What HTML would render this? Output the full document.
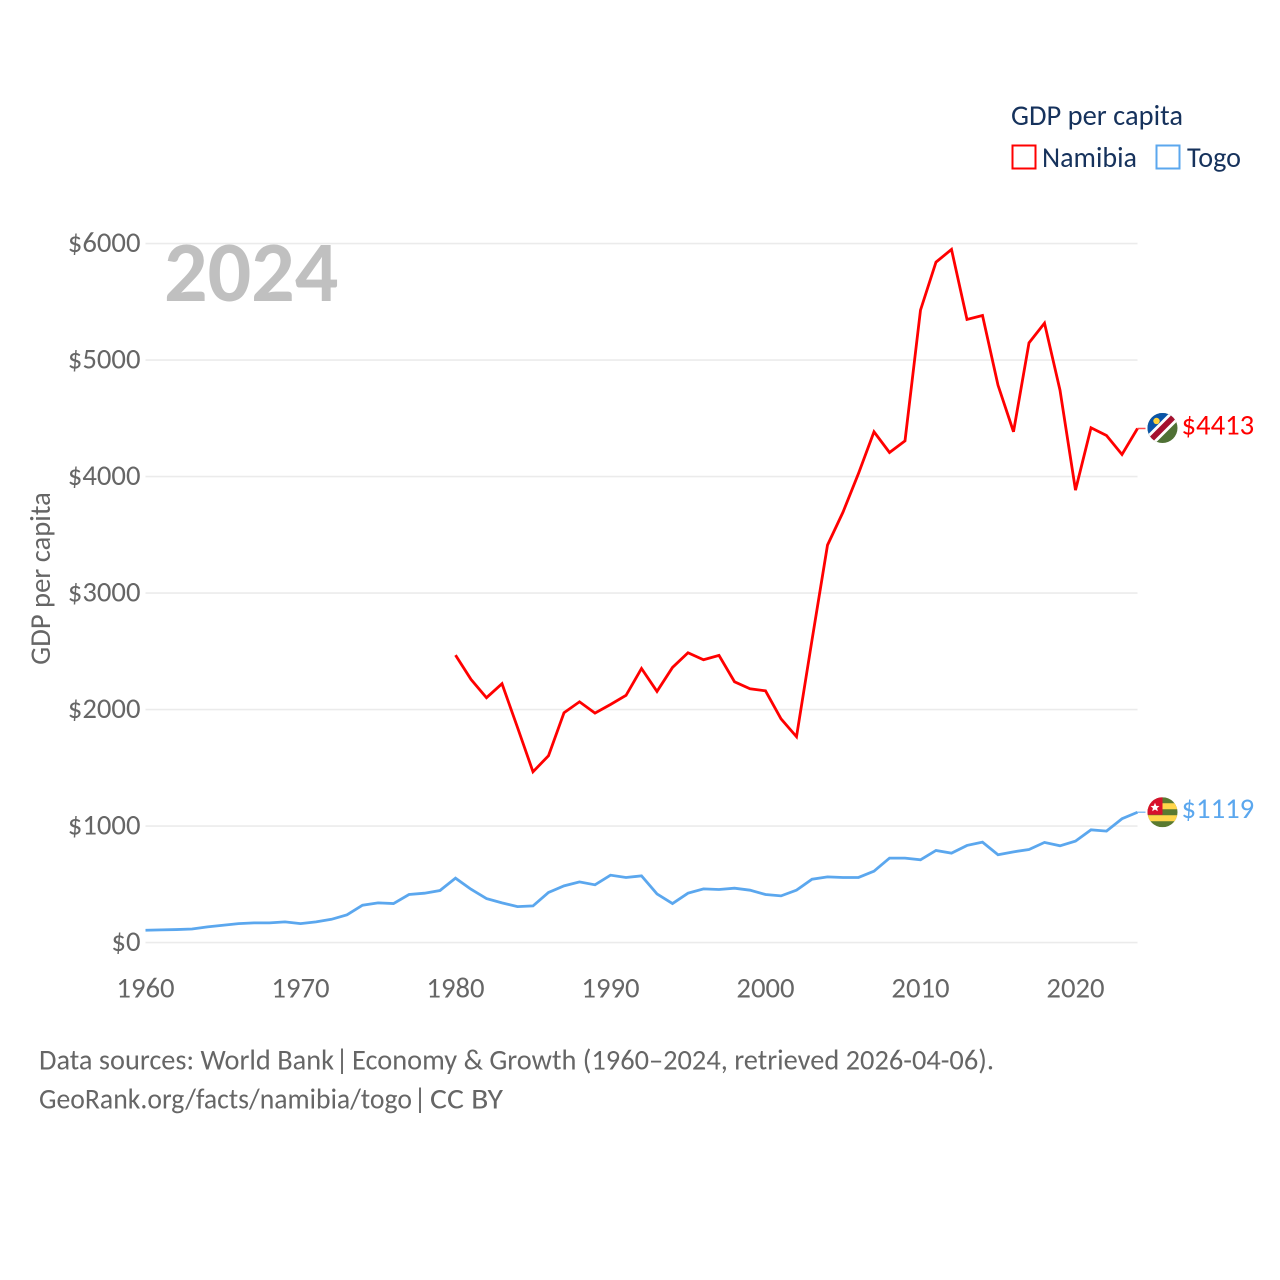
<!DOCTYPE html>
<html lang="en">
<head>
<meta charset="utf-8">
<title>GDP per capita: Namibia and Togo</title>
<style>
  html, body { margin: 0; padding: 0; background: #fff; }
  svg { display: block; font-family: "Carlito", "Lato", "Liberation Sans", sans-serif; }
</style>
</head>
<body>
<svg id="chart" xmlns="http://www.w3.org/2000/svg" width="1280" height="1280" viewBox="0 0 1280 1280">
  <defs>
    <clipPath id="flag-clip-na"><circle cx="0" cy="0" r="15"></circle></clipPath>
    <clipPath id="flag-clip-tg"><circle cx="0" cy="0" r="15"></circle></clipPath>
  </defs>
  <rect x="0" y="0" width="1280" height="1280" fill="#ffffff"></rect>

  <g id="grid"></g>
  <g id="yticks"></g>
  <g id="xticks"></g>

  <text x="164" y="301" font-size="86" font-weight="700" fill="#c0c0c0">2024</text>
  <text transform="translate(50,578.5) rotate(-90)" text-anchor="middle" font-size="28.6" fill="#666666">GDP per capita</text>

  <g id="series"></g>

  <g id="flag-namibia">
    <g clip-path="url(#flag-clip-na)">
      <rect x="-15" y="-15" width="30" height="30" fill="#4f7135"></rect>
      <polygon points="-15,-15 15,-15 -15,15" fill="#0a55a8"></polygon>
      <polygon points="-17,9 9,-17 17,-9 -9,17" fill="#ffffff"></polygon>
      <polygon points="-17,13 13,-17 17,-13 -13,17" fill="#a5112f"></polygon>
      <circle cx="-6" cy="-7" r="3.2" fill="#ffd43b"></circle>
    </g>
  </g>
  <g id="flag-togo">
    <g clip-path="url(#flag-clip-tg)">
      <rect x="-15" y="-15" width="30" height="30" fill="#5a7a30"></rect>
      <rect x="-15" y="-9" width="30" height="6" fill="#ffd64a"></rect>
      <rect x="-15" y="3" width="30" height="6" fill="#ffd64a"></rect>
      <rect x="-15" y="-15" width="15" height="17.5" fill="#d8102c"></rect>
      <polygon points="-7.5,-9.5 -6.2,-6.4 -3,-6.2 -5.4,-4.1 -4.7,-1 -7.5,-2.7 -10.3,-1 -9.6,-4.1 -12,-6.2 -8.8,-6.4" fill="#ffffff"></polygon>
    </g>
  </g>
  <g id="end-labels"></g>

  <g>
    <text x="1011" y="125" font-size="28.5" fill="#16325c" textLength="172" lengthAdjust="spacingAndGlyphs">GDP per capita</text>
    <g>
      <rect x="1012.5" y="145.5" width="23" height="23" fill="#ffffff" stroke="#ff0000" stroke-width="2"></rect>
      <text x="1042" y="167" font-size="28.5" fill="#16325c" textLength="95" lengthAdjust="spacingAndGlyphs">Namibia</text>
    </g>
    <g>
      <rect x="1156.5" y="145.5" width="23" height="23" fill="#ffffff" stroke="#5ba7ee" stroke-width="2"></rect>
      <text x="1187" y="167" font-size="28.5" fill="#16325c" textLength="54" lengthAdjust="spacingAndGlyphs">Togo</text>
    </g>
  </g>

  <text y="1069.5" font-size="28.3" fill="#666666"><tspan x="39" textLength="295" lengthAdjust="spacingAndGlyphs">Data sources: World Bank</tspan> <tspan x="335.5">|</tspan> <tspan x="352" textLength="642" lengthAdjust="spacingAndGlyphs">Economy &amp; Growth (1960–2024, retrieved 2026-04-06).</tspan></text>
  <text y="1108.5" font-size="28.3" fill="#666666"><tspan x="39" textLength="373" lengthAdjust="spacingAndGlyphs">GeoRank.org/facts/namibia/togo</tspan> <tspan x="413.5">|</tspan> <tspan x="430" textLength="73" lengthAdjust="spacingAndGlyphs">CC BY</tspan></text>
</svg>

<script>
const yTickValues = [0, 1000, 2000, 3000, 4000, 5000, 6000];
const xTickYears = [1960, 1970, 1980, 1990, 2000, 2010, 2020];
const firstYear = 1960;
const lastYear = 2024;

const namibiaStartYear = 1980;
const namibiaValues = [
  2468, 2259, 2102, 2222, 1847, 1466, 1604, 1973, 2067, 1970,
  2044, 2122, 2353, 2156, 2362, 2488, 2428, 2465, 2239, 2179,
  2161, 1921, 1767, 2597, 3412, 3695, 4027, 4385, 4207, 4307,
  5429, 5841, 5950, 5349, 5383, 4785, 4385, 5148, 5317, 4742,
  3884, 4419, 4353, 4190, 4413
];

const togoStartYear = 1960;
const togoValues = [
  106, 109, 112, 117, 135, 149, 163, 169, 169, 178,
  163, 178, 200, 238, 321, 341, 335, 413, 424, 447,
  553, 458, 378, 341, 309, 315, 430, 487, 521, 496,
  579, 559, 573, 418, 335, 424, 461, 456, 467, 450,
  413, 401, 450, 544, 564, 559, 559, 613, 725, 725,
  711, 791, 768, 834, 862, 754, 779, 799, 860, 831,
  871, 968, 957, 1063, 1119
];

const SVG_NS = 'http://www.w3.org/2000/svg';
const plotLeft = 145.5;
const plotRight = 1137.5;
const yZero = 942.6;
const yTop = 243.6;
const yMax = 6000;

function xScale(year) {
  return plotLeft + (year - firstYear) * (plotRight - plotLeft) / (lastYear - firstYear);
}
function yScale(value) {
  return yZero - value * (yZero - yTop) / yMax;
}
function make(tag, attrs) {
  const el = document.createElementNS(SVG_NS, tag);
  Object.keys(attrs).forEach(function (k) { el.setAttribute(k, attrs[k]); });
  return el;
}
function linePoints(values, startYear) {
  return values.map(function (v, i) {
    return xScale(startYear + i).toFixed(2) + ',' + yScale(v).toFixed(2);
  }).join(' ');
}

const gridGroup = document.getElementById('grid');
const yTickGroup = document.getElementById('yticks');
yTickValues.forEach(function (v) {
  const gridLine = make('line', { x1: plotLeft, x2: plotRight, y1: yScale(v), y2: yScale(v), stroke: '#ebebeb', 'stroke-width': 1.6 });
  
  
  gridGroup.appendChild(gridLine);

  const tickLabel = make('text', { x: 140.5, y: yScale(v) + 8.4, 'text-anchor': 'end', 'font-size': 28.7, fill: '#666666' });
  
  
  tickLabel.textContent = '$' + v;
  yTickGroup.appendChild(tickLabel);
});

const xTickGroup = document.getElementById('xticks');
xTickYears.forEach(function (year) {
  const tickLabel = make('text', { x: xScale(year), y: 997.5, 'text-anchor': 'middle', 'font-size': 28.7, fill: '#666666' });
  
  
  tickLabel.textContent = String(year);
  xTickGroup.appendChild(tickLabel);
});

const seriesGroup = document.getElementById('series');
const namibiaLine = make('polyline', { points: linePoints(namibiaValues, namibiaStartYear), fill: 'none', stroke: '#ff0000', 'stroke-width': 2.8, 'stroke-linejoin': 'miter' });


seriesGroup.appendChild(namibiaLine);

const togoLine = make('polyline', { points: linePoints(togoValues, togoStartYear), fill: 'none', stroke: '#5ba7ee', 'stroke-width': 2.8, 'stroke-linejoin': 'miter' });


seriesGroup.appendChild(togoLine);

const namibiaEnd = namibiaValues[namibiaValues.length - 1];
const togoEnd = togoValues[togoValues.length - 1];

const namibiaConnector = make('line', { x1: plotRight, x2: plotRight + 8, y1: yScale(namibiaEnd), y2: yScale(namibiaEnd), stroke: '#ff0000', 'stroke-width': 1.5, opacity: 0.7 });


seriesGroup.appendChild(namibiaConnector);

const togoConnector = make('line', { x1: plotRight, x2: plotRight + 8, y1: yScale(togoEnd), y2: yScale(togoEnd), stroke: '#5ba7ee', 'stroke-width': 1.5, opacity: 0.7 });


seriesGroup.appendChild(togoConnector);

document.getElementById('flag-namibia').setAttribute('transform', 'translate(1162.5,' + (yScale(namibiaEnd) - 0.5) + ')');
document.getElementById('flag-togo').setAttribute('transform', 'translate(1162.5,' + yScale(togoEnd) + ')');

const endGroup = document.getElementById('end-labels');
const namibiaLabel = make('text', { x: 1181.5, y: yScale(namibiaEnd) + 5.8, 'font-size': 28.7, fill: '#ff0000' });


namibiaLabel.textContent = '$' + namibiaEnd;
endGroup.appendChild(namibiaLabel);

const togoLabel = make('text', { x: 1181.5, y: yScale(togoEnd) + 6, 'font-size': 28.7, fill: '#5ba7ee' });


togoLabel.textContent = '$' + togoEnd;
endGroup.appendChild(togoLabel);
</script>
</body>
</html>
